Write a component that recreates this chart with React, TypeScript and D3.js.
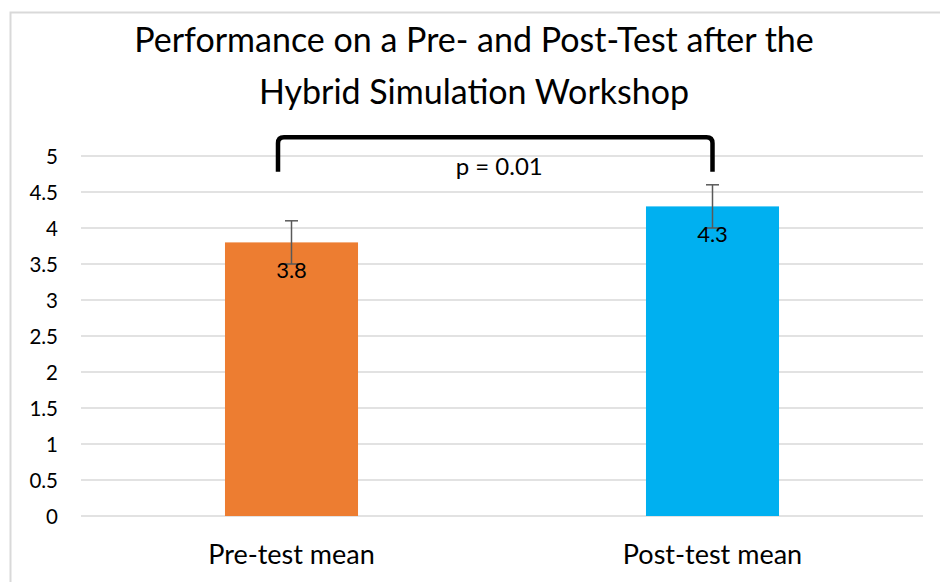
import React, { useRef, useEffect } from "react";
import * as d3 from "d3";

const WIDTH = 940;
const HEIGHT = 582;
const MARGIN = { top: 156, right: 17, bottom: 66, left: 81 };
const FONT = "Lato, 'Open Sans', sans-serif";

const TITLE_LINES = [
  "Performance on a Pre- and Post-Test after the",
  "Hybrid Simulation Workshop",
];
const CATEGORIES = ["Pre-test mean", "Post-test mean"];
const MEANS = [3.8, 4.3];
const ERRORS = [0.3, 0.3];
const BAR_COLORS = ["#ED7D31", "#00B0F0"];
const Y_TICKS = [0, 0.5, 1, 1.5, 2, 2.5, 3, 3.5, 4, 4.5, 5];
const P_LABEL = "p = 0.01";

export default function App() {
  const svgRef = useRef<SVGSVGElement | null>(null);

  useEffect(() => {
    const svg = d3.select(svgRef.current);
    svg.selectAll("*").remove();

    const innerWidth = WIDTH - MARGIN.left - MARGIN.right;
    const innerHeight = HEIGHT - MARGIN.top - MARGIN.bottom;

    svg.append("rect").attr("width", WIDTH).attr("height", HEIGHT).attr("fill", "#fff");

    // chart frame (only left/top edges are in view)
    svg
      .append("path")
      .attr("d", `M10.5,${HEIGHT} V12.5 H${WIDTH}`)
      .attr("fill", "none")
      .attr("stroke", "#D9D9D9")
      .attr("stroke-width", 2);

    // title
    svg
      .append("g")
      .selectAll("text")
      .data(TITLE_LINES)
      .join("text")
      .attr("x", 474)
      .attr("y", (_, i) => 52 + i * 51.5)
      .attr("text-anchor", "middle")
      .attr("font-family", FONT)
      .attr("font-size", 34)
      .attr("fill", "#000")
      .text((d) => d);

    const g = svg
      .append("g")
      .attr("transform", `translate(${MARGIN.left},${MARGIN.top})`);

    const x = d3.scaleBand().domain(CATEGORIES).range([0, innerWidth]).paddingInner(0.684).paddingOuter(0.342);
    const y = d3.scaleLinear().domain([0, 5]).range([innerHeight, 0]);

    // gridlines
    g.append("g")
      .selectAll("line")
      .data(Y_TICKS)
      .join("line")
      .attr("x1", 0)
      .attr("x2", innerWidth)
      .attr("y1", (d) => y(d))
      .attr("y2", (d) => y(d))
      .attr("stroke", "#D9D9D9")
      .attr("stroke-width", 1.3);

    // y axis labels
    const yAxis = g.append("g").call(
      d3
        .axisLeft(y)
        .tickValues(Y_TICKS)
        .tickFormat((d) => String(d))
        .tickSize(0)
        .tickPadding(23),
    );
    yAxis.select(".domain").remove();
    yAxis
      .selectAll("text")
      .attr("font-family", FONT)
      .attr("font-size", 20.5)
      .attr("fill", "#000")
      .attr("dy", "0.36em");

    // bars
    g.append("g")
      .selectAll("rect")
      .data(CATEGORIES)
      .join("rect")
      .attr("x", (d) => x(d)!)
      .attr("width", x.bandwidth())
      .attr("y", (_, i) => y(MEANS[i]))
      .attr("height", (_, i) => innerHeight - y(MEANS[i]))
      .attr("fill", (_, i) => BAR_COLORS[i]);

    // error bars
    const cx = (d: string) => x(d)! + x.bandwidth() / 2;
    const eb = g.append("g").attr("stroke", "#595959").attr("stroke-width", 1.5);
    CATEGORIES.forEach((c, i) => {
      const top = y(MEANS[i] + ERRORS[i]);
      const bot = y(MEANS[i] - ERRORS[i]);
      eb.append("line").attr("x1", cx(c)).attr("x2", cx(c)).attr("y1", top).attr("y2", bot);
      eb.append("line").attr("x1", cx(c) - 6.5).attr("x2", cx(c) + 6.5).attr("y1", top).attr("y2", top);
      eb.append("line").attr("x1", cx(c) - 6.5).attr("x2", cx(c) + 6.5).attr("y1", bot).attr("y2", bot);
    });

    // data labels
    g.append("g")
      .selectAll("text")
      .data(CATEGORIES)
      .join("text")
      .attr("x", (d) => cx(d))
      .attr("y", (_, i) => y(MEANS[i]) + 36)
      .attr("text-anchor", "middle")
      .attr("font-family", FONT)
      .attr("font-size", 22)
      .attr("fill", "#000")
      .text((_, i) => String(MEANS[i]));

    // category labels
    g.append("g")
      .selectAll("text")
      .data(CATEGORIES)
      .join("text")
      .attr("x", (d) => cx(d))
      .attr("y", innerHeight + 48)
      .attr("text-anchor", "middle")
      .attr("font-family", FONT)
      .attr("font-size", 27)
      .attr("fill", "#000")
      .text((d) => d);

    // significance bracket
    const bx1 = cx(CATEGORIES[0]) - 13.5;
    const bx2 = cx(CATEGORIES[1]);
    const bTop = y(5.26);
    const bBot = y(4.78);
    const r = 6;
    g.append("path")
      .attr(
        "d",
        `M${bx1},${bBot} V${bTop + r} Q${bx1},${bTop} ${bx1 + r},${bTop} H${bx2 - r} Q${bx2},${bTop} ${bx2},${bTop + r} V${bBot}`,
      )
      .attr("fill", "none")
      .attr("stroke", "#000")
      .attr("stroke-width", 4.5);

    g.append("text")
      .attr("x", (bx1 + bx2) / 2 + 4)
      .attr("y", y(4.74))
      .attr("text-anchor", "middle")
      .attr("font-family", FONT)
      .attr("font-size", 24)
      .attr("fill", "#000")
      .text(P_LABEL);
  }, []);

  return (
    <svg
      ref={svgRef}
      width={WIDTH}
      height={HEIGHT}
      style={{ position: "absolute", left: 0, top: 0, display: "block" }}
    />
  );
}
